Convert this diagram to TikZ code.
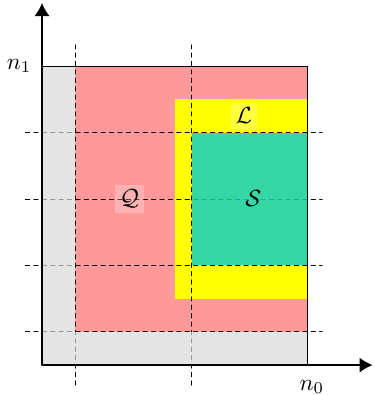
\documentclass[tikz,border=0pt]{standalone}
\usepackage{amsmath}
\usepackage{amssymb}
\usepackage{tikz}
\usetikzlibrary{positioning,arrows.meta}

\definecolor{boxgray}{RGB}{216,216,216}
\definecolor{boxred}{RGB}{255,153,153}
\definecolor{boxyellow}{RGB}{255,255,0}
\definecolor{boxgreen}{RGB}{20,207,194}

\tikzset{
  gridline/.style={black, dash pattern=on 1.8pt off 1.8pt},
  setlabel/.style={fill=white, fill opacity=0.25, text opacity=1, inner sep=2pt},
}

\begin{document}
\begin{tikzpicture}[x=0.5cm,y=0.5cm, line cap=round, line join=round]
\useasboundingbox (-1.265,-0.9) rectangle (9.97,10.99);

% regions under the guide lines
\fill[boxred] (1,1) rectangle (8,9);
\fill[boxyellow] (4,2) rectangle (8,8);

% guide lines
\foreach \x in {1,4.5} {
  \draw[gridline] (\x,-0.6) -- (\x,9.64);
}
\foreach \y in {1,3,5,7} {
  \draw[gridline] (-0.5,\y) -- (8.43,\y);
}

% regions over the guide lines
\fill[boxgray, fill opacity=0.7] (0,0) -- (8,0) -- (8,1) -- (1,1) -- (1,9) -- (0,9) -- cycle;
\fill[boxgreen, fill opacity=0.85] (4.5,3) rectangle (8,7);

% outer frame
\draw[black] (0,0) rectangle (8,9);

% axes
\draw[semithick, -{Latex[length=5.6pt,width=6.5pt]}] (0,0) -- (9.95,0);
\draw[semithick, -{Latex[length=5.6pt,width=6.5pt]}] (0,0) -- (0,10.9);

% labels
\node[left=1pt] (n1) at (0,9) {$n_1$};
\node[below=3pt] (n0) at (8.12,0) {$n_0$};
\node[setlabel] (setL) at (6.08,7.5) {$\mathcal{L}$};
\node[setlabel] (setQ) at (2.63,5) {$\mathcal{Q}$};
\node (setS) at (6.36,5) {$\mathcal{S}$};
\end{tikzpicture}
\end{document}
